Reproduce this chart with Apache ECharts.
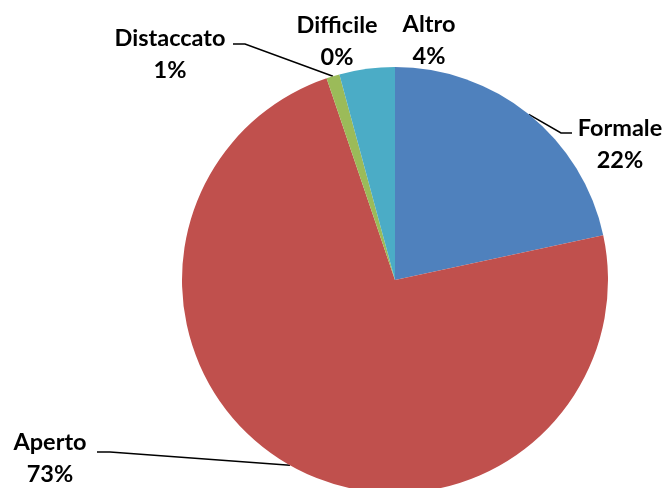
<!DOCTYPE html>
<html>
<head>
<meta charset="utf-8">
<script src="https://cdn.jsdelivr.net/npm/echarts@6/dist/echarts.min.js"></script>
<style>
html,body{margin:0;padding:0;background:#fff;}
#chart{width:668px;height:488px;}
</style>
</head>
<body>
<div id="chart"></div>
<script>
// Data
const categories = ['Formale', 'Aperto', 'Distaccato', 'Difficile', 'Altro'];
const values = [21.6, 73.1, 1.0, 0, 4.2];
const colors = ['#4F81BD', '#C0504D', '#9BBB59', '#8064A2', '#4BACC6'];

// Label placement (layout only)
const labelPlacement = [
  { x: 620, y: 144, line: [[561, 133], [572, 133]] },
  { x: 50, y: 458, line: [[110, 452], [97, 452]] },
  { x: 170, y: 54, line: [[245, 44], [233, 44]] },
  { x: 337, y: 41, line: null },
  { x: 429, y: 40, line: null }
];

const chart = echarts.init(document.getElementById('chart'));
chart.setOption({
  animation: false,
  backgroundColor: '#ffffff',
  series: [{
    type: 'pie',
    center: [395, 280],
    radius: 213,
    startAngle: 90,
    clockwise: true,
    avoidLabelOverlap: false,
    data: categories.map((c, i) => ({
      name: c,
      value: values[i],
      itemStyle: { color: colors[i] },
      labelLine: { show: !!labelPlacement[i].line }
    })),
    itemStyle: { borderWidth: 0 },
    label: {
      show: true,
      position: 'outside',
      formatter: p => p.name + '\n' + Math.round(p.percent) + '%',
      fontFamily: 'Lato',
      fontWeight: 'bold',
      fontSize: 23.5,
      lineHeight: 32,
      color: '#000',
      align: 'center'
    },
    labelLine: {
      show: true,
      length: 10,
      length2: 10,
      smooth: false,
      lineStyle: { color: '#000', width: 1.5 }
    },
    labelLayout: function (params) {
      const lp = labelPlacement[params.dataIndex];
      const res = { x: lp.x, y: lp.y, align: 'center', verticalAlign: 'middle' };
      if (lp.line && params.labelLinePoints) {
        res.labelLinePoints = [params.labelLinePoints[0]].concat(lp.line);
      }
      return res;
    }
  }]
});
</script>
</body>
</html>
